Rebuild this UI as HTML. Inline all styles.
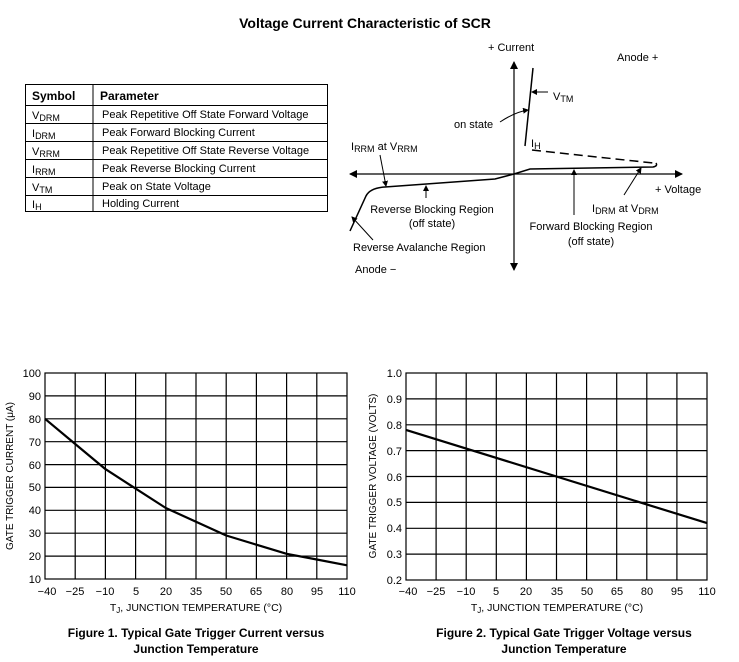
<!DOCTYPE html>
<html><head><meta charset="utf-8"><style>
body{margin:0;background:#fff;}
svg{display:block;font-family:"Liberation Sans",sans-serif;}
</style></head><body>
<svg width="739" height="662" viewBox="0 0 739 662" xmlns="http://www.w3.org/2000/svg">
<defs><marker id="ah" markerWidth="8" markerHeight="8" refX="7" refY="4" orient="auto" markerUnits="userSpaceOnUse"><path d="M0,0 L8,4 L0,8 z" fill="#000"/></marker>
<marker id="sa" markerWidth="6" markerHeight="6" refX="5" refY="3" orient="auto" markerUnits="userSpaceOnUse"><path d="M0,0 L6,3 L0,6 z" fill="#000"/></marker></defs>
<text x="365" y="28" font-size="14" font-weight="bold" text-anchor="middle">Voltage Current Characteristic of SCR</text>
<!-- table -->
<g font-size="11" fill="#000">
<rect x="25.5" y="84.5" width="302" height="127" fill="none" stroke="#000"/>
<line x1="93" y1="84" x2="93" y2="212" stroke="#000"/>
<g stroke="#000" stroke-width="1"><line x1="25" y1="105.5" x2="327" y2="105.5"/><line x1="25" y1="123.5" x2="327" y2="123.5"/><line x1="25" y1="141.5" x2="327" y2="141.5"/><line x1="25" y1="159.5" x2="327" y2="159.5"/><line x1="25" y1="177.5" x2="327" y2="177.5"/><line x1="25" y1="195.5" x2="327" y2="195.5"/></g>
<text x="32" y="100" font-size="12" font-weight="bold">Symbol</text><text x="100" y="100" font-size="12" font-weight="bold">Parameter</text>
<text x="32" y="119">V<tspan font-size="9" dy="2">DRM</tspan></text><text x="102" y="118">Peak Repetitive Off State Forward Voltage</text>
<text x="32" y="137">I<tspan font-size="9" dy="2">DRM</tspan></text><text x="102" y="136">Peak Forward Blocking Current</text>
<text x="32" y="155">V<tspan font-size="9" dy="2">RRM</tspan></text><text x="102" y="154">Peak Repetitive Off State Reverse Voltage</text>
<text x="32" y="173">I<tspan font-size="9" dy="2">RRM</tspan></text><text x="102" y="172">Peak Reverse Blocking Current</text>
<text x="32" y="191">V<tspan font-size="9" dy="2">TM</tspan></text><text x="102" y="190">Peak on State Voltage</text>
<text x="32" y="208">I<tspan font-size="9" dy="2">H</tspan></text><text x="102" y="207">Holding Current</text>
</g>
<!-- diagram -->
<g stroke="#000" fill="none" stroke-width="1.2">
<line x1="514" y1="174" x2="514" y2="62" marker-end="url(#ah)"/>
<line x1="514" y1="174" x2="514" y2="270" marker-end="url(#ah)"/>
<line x1="514" y1="174" x2="682" y2="174" marker-end="url(#ah)"/>
<line x1="514" y1="174" x2="350" y2="174" marker-end="url(#ah)"/>
<line x1="525" y1="146" x2="533" y2="68" stroke-width="1.5"/>
<line x1="532" y1="150" x2="653" y2="163" stroke-dasharray="9,5" stroke-width="1.5"/>
<path d="M514,174 L530,169 L653,167 Q658,166 656,163" stroke-width="1.5"/>
<path d="M514,174 L495,179 L385,187 Q370,188 366,196 L350,231" stroke-width="1.5"/>
<line x1="548" y1="92" x2="532" y2="92" marker-end="url(#sa)" stroke-width="1"/>
<path d="M500,122 Q515,112 528,110" marker-end="url(#sa)" stroke-width="1"/>
<line x1="380" y1="155" x2="386" y2="186" marker-end="url(#sa)" stroke-width="1"/>
<line x1="426" y1="198" x2="426" y2="186" marker-end="url(#sa)" stroke-width="1"/>
<line x1="574" y1="215" x2="574" y2="170" marker-end="url(#sa)" stroke-width="1"/>
<line x1="624" y1="195" x2="641" y2="168" marker-end="url(#sa)" stroke-width="1"/>
<line x1="373" y1="240" x2="352" y2="217" marker-end="url(#sa)" stroke-width="1"/>
</g>
<g font-size="11">
<text x="488" y="51">+ Current</text>
<text x="617" y="61">Anode +</text>
<text x="553" y="100">V<tspan font-size="9" dy="2">TM</tspan></text>
<text x="454" y="128">on state</text>
<text x="531" y="147">I<tspan font-size="9" dy="2">H</tspan></text>
<text x="351" y="150">I<tspan font-size="9" dy="2">RRM</tspan><tspan dy="-2"> at V</tspan><tspan font-size="9" dy="2">RRM</tspan></text>
<text x="655" y="193">+ Voltage</text>
<text x="592" y="212">I<tspan font-size="9" dy="2">DRM</tspan><tspan dy="-2"> at V</tspan><tspan font-size="9" dy="2">DRM</tspan></text>
<text x="432" y="213" text-anchor="middle">Reverse Blocking Region</text>
<text x="432" y="227" text-anchor="middle">(off state)</text>
<text x="591" y="230" text-anchor="middle">Forward Blocking Region</text>
<text x="591" y="245" text-anchor="middle">(off state)</text>
<text x="353" y="251">Reverse Avalanche Region</text>
<text x="355" y="273">Anode −</text>
</g>
<!-- chart 1 -->
<g stroke="#000" stroke-width="1.2" fill="none">
<rect x="45" y="373" width="302" height="206"/>
<path d="M75.2,373V579M105.4,373V579M135.6,373V579M165.8,373V579M196,373V579M226.2,373V579M256.4,373V579M286.6,373V579M316.8,373V579"/>
<path d="M45,395.9H347M45,418.8H347M45,441.7H347M45,464.6H347M45,487.4H347M45,510.3H347M45,533.2H347M45,556.1H347"/>
<path d="M45,418.8 L75.2,444 L105.4,469.1 L135.6,488.6 L165.8,508 L196,521.8 L226.2,535.5 L256.4,544.7 L286.6,553.8 L316.8,559.5 L347,565.3" stroke-width="2.2" stroke-linejoin="round"/>
</g>
<g font-size="11" text-anchor="end">
<text x="41" y="377">100</text><text x="41" y="400">90</text><text x="41" y="423">80</text><text x="41" y="446">70</text><text x="41" y="469">60</text><text x="41" y="491">50</text><text x="41" y="514">40</text><text x="41" y="537">30</text><text x="41" y="560">20</text><text x="41" y="583">10</text>
</g>
<g font-size="11" text-anchor="middle">
<text x="47" y="595">−40</text><text x="75" y="595">−25</text><text x="105" y="595">−10</text><text x="136" y="595">5</text><text x="166" y="595">20</text><text x="196" y="595">35</text><text x="226" y="595">50</text><text x="256" y="595">65</text><text x="287" y="595">80</text><text x="317" y="595">95</text><text x="347" y="595">110</text>
<text x="196" y="611" font-size="10.5">T<tspan font-size="8" dy="2">J</tspan><tspan dy="-2">, JUNCTION TEMPERATURE (°C)</tspan></text>
<text x="196" y="637" font-size="12" font-weight="bold">Figure 1. Typical Gate Trigger Current versus</text>
<text x="196" y="653" font-size="12" font-weight="bold">Junction Temperature</text>
<text transform="translate(13,476) rotate(-90)" font-size="10">GATE TRIGGER CURRENT (μA)</text>
</g>
<!-- chart 2 -->
<g stroke="#000" stroke-width="1.2" fill="none">
<rect x="406" y="373" width="301" height="207"/>
<path d="M436.1,373V580M466.2,373V580M496.3,373V580M526.4,373V580M556.5,373V580M586.6,373V580M616.7,373V580M646.8,373V580M676.9,373V580"/>
<path d="M406,398.9H707M406,424.8H707M406,450.6H707M406,476.5H707M406,502.4H707M406,528.3H707M406,554.1H707"/>
<line x1="406" y1="429.9" x2="707" y2="523.1" stroke-width="2.2"/>
</g>
<g font-size="11" text-anchor="end">
<text x="402" y="377">1.0</text><text x="402" y="403">0.9</text><text x="402" y="429">0.8</text><text x="402" y="455">0.7</text><text x="402" y="481">0.6</text><text x="402" y="506">0.5</text><text x="402" y="532">0.4</text><text x="402" y="558">0.3</text><text x="402" y="584">0.2</text>
</g>
<g font-size="11" text-anchor="middle">
<text x="408" y="595">−40</text><text x="436" y="595">−25</text><text x="466" y="595">−10</text><text x="496" y="595">5</text><text x="526" y="595">20</text><text x="557" y="595">35</text><text x="587" y="595">50</text><text x="617" y="595">65</text><text x="647" y="595">80</text><text x="677" y="595">95</text><text x="707" y="595">110</text>
<text x="557" y="611" font-size="10.5">T<tspan font-size="8" dy="2">J</tspan><tspan dy="-2">, JUNCTION TEMPERATURE (°C)</tspan></text>
<text x="564" y="637" font-size="12" font-weight="bold">Figure 2. Typical Gate Trigger Voltage versus</text>
<text x="564" y="653" font-size="12" font-weight="bold">Junction Temperature</text>
<text transform="translate(376,476) rotate(-90)" font-size="10">GATE TRIGGER VOLTAGE (VOLTS)</text>
</g>
</svg>
</body></html>
